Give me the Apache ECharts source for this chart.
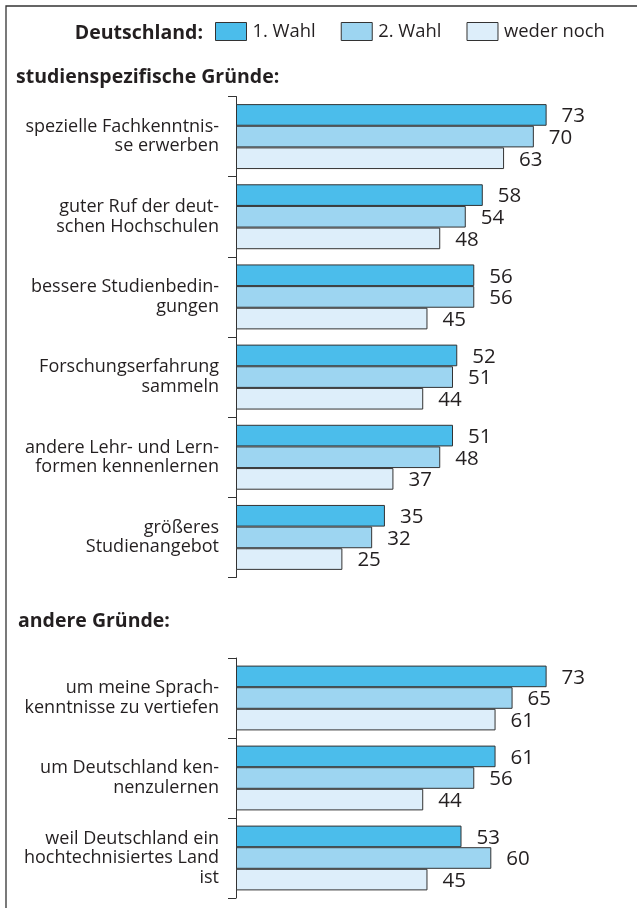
<!DOCTYPE html>
<html>
<head>
<meta charset="utf-8">
<script src="https://cdn.jsdelivr.net/npm/echarts@6/dist/echarts.min.js"></script>
<style>
  html, body { margin: 0; padding: 0; background: #fff; }
  #chart { width: 637px; height: 908px; }
</style>
</head>
<body>
<div id="chart"></div>
<script>
// Reasons for choosing Germany as a study destination, in percent
const seriesNames = ['1. Wahl', '2. Wahl', 'weder noch'];
const seriesColors = ['#4bbdeb', '#9dd5f1', '#ddeefa'];

const studyReasons = [
  'spezielle Fachkenntnis-\nse erwerben',
  'guter Ruf der deut-\nschen Hochschulen',
  'bessere Studienbedin-\ngungen',
  'Forschungserfahrung\nsammeln',
  'andere Lehr- und Lern-\nformen kennenlernen',
  'größeres\nStudienangebot'
];
const studyWahl1 = [73, 58, 56, 52, 51, 35];
const studyWahl2 = [70, 54, 56, 51, 48, 32];
const studyWeder = [63, 48, 45, 44, 37, 25];

const otherReasons = [
  'um meine Sprach-\nkenntnisse zu vertiefen',
  'um Deutschland ken-\nnenzulernen',
  'weil Deutschland ein\nhochtechnisiertes Land\nist'
];
const otherWahl1 = [73, 61, 53];
const otherWahl2 = [65, 56, 60];
const otherWeder = [61, 44, 45];

const FONT = '"Open Sans", sans-serif';
const TEXT = '#231f20';

const chart = echarts.init(document.getElementById('chart'), null, { renderer: 'canvas' });

function catAxis(gridIndex, data) {
  return {
    type: 'category',
    gridIndex: gridIndex,
    data: data,
    inverse: true,
    axisLine: { show: true, lineStyle: { color: '#333', width: 1 } },
    axisTick: { show: true, length: 8, lineStyle: { color: '#333', width: 1 } },
    axisLabel: {
      margin: 17,
      color: TEXT,
      fontFamily: FONT,
      fontSize: 18,
      lineHeight: 19.5,
      align: 'right'
    },
    splitLine: { show: false }
  };
}

function valAxis(gridIndex) {
  return {
    type: 'value',
    gridIndex: gridIndex,
    min: 0,
    max: 80,
    show: false
  };
}

function barSeries(name, idx, axisIndex, values) {
  return {
    type: 'bar',
    name: name,
    xAxisIndex: axisIndex,
    yAxisIndex: axisIndex,
    data: values,
    barGap: '0%',
    barCategoryGap: '19%',
    itemStyle: { color: seriesColors[idx], borderColor: '#333', borderWidth: 1 },
    label: {
      show: true,
      position: 'right',
      distance: 15,
      offset: [0, 1.5],
      color: TEXT,
      fontFamily: FONT,
      fontSize: 20.5
    },
    emphasis: { disabled: true },
    animation: false
  };
}

const option = {
  backgroundColor: '#fff',
  animation: false,
  textStyle: { fontFamily: FONT },
  legend: {
    left: 215,
    top: 22,
    padding: 0,
    itemWidth: 31,
    itemHeight: 18,
    itemGap: 25,
    selectedMode: false,
    data: seriesNames.map(n => ({ name: n, icon: 'rect' })),
    itemStyle: { borderColor: '#333', borderWidth: 1 },
    textStyle: { color: TEXT, fontFamily: FONT, fontSize: 18.4, padding: [2, 0, 0, 1] }
  },
  grid: [
    { left: 236, top: 96.5, width: 340.4, height: 481 },
    { left: 236, top: 658, width: 340.4, height: 240 }
  ],
  xAxis: [valAxis(0), valAxis(1)],
  yAxis: [catAxis(0, studyReasons), catAxis(1, otherReasons)],
  series: [
    barSeries(seriesNames[0], 0, 0, studyWahl1),
    barSeries(seriesNames[1], 1, 0, studyWahl2),
    barSeries(seriesNames[2], 2, 0, studyWeder),
    barSeries(seriesNames[0], 0, 1, otherWahl1),
    barSeries(seriesNames[1], 1, 1, otherWahl2),
    barSeries(seriesNames[2], 2, 1, otherWeder)
  ],
  graphic: [
    // frame along the top and left edges
    { type: 'polyline', silent: true,
      shape: { points: [[6, 908], [6, 6], [637, 6]] },
      style: { stroke: '#333', lineWidth: 1.3, fill: null } },
    { type: 'text', silent: true, x: 203, y: 33,
      style: { text: 'Deutschland:', fill: TEXT, font: 'bold 19.5px ' + FONT,
               textAlign: 'right', textVerticalAlign: 'middle' } },
    { type: 'text', silent: true, x: 16, y: 77.5,
      style: { text: 'studienspezifische Gründe:', fill: TEXT, font: 'bold 19.5px ' + FONT,
               textAlign: 'left', textVerticalAlign: 'middle' } },
    { type: 'text', silent: true, x: 18, y: 621.5,
      style: { text: 'andere Gründe:', fill: TEXT, font: 'bold 19.5px ' + FONT,
               textAlign: 'left', textVerticalAlign: 'middle' } }
  ]
};

chart.setOption(option);
</script>
</body>
</html>
